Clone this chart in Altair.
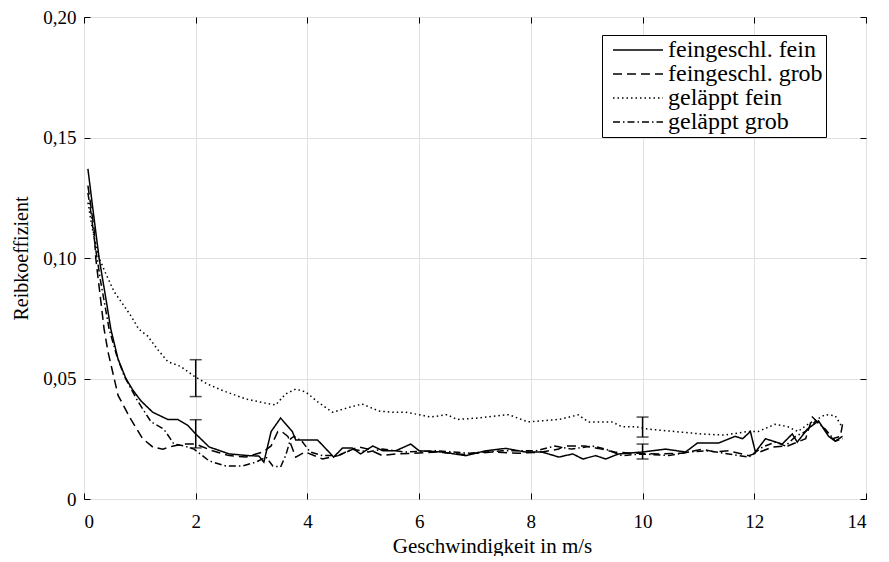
import altair as alt
import pandas as pd

FONT = "Liberation Serif"

names = ["feingeschl. fein", "feingeschl. grob", "geläppt fein", "geläppt grob"]

s_x = [0.07, 0.15, 0.27, 0.4, 0.48, 0.61, 0.75, 0.88, 1.02, 1.23, 1.5, 1.68, 1.86, 2.0, 2.24, 2.6, 2.95, 3.13, 3.22, 3.35, 3.52, 3.73, 3.79, 3.97, 4.18, 4.3, 4.47, 4.63, 4.8, 4.95, 5.17, 5.35, 5.58, 5.85, 6.0, 6.4, 6.83, 7.19, 7.55, 7.9, 8.2, 8.5, 8.75, 8.93, 9.16, 9.34, 9.57, 10.0, 10.41, 10.77, 10.98, 11.36, 11.66, 11.79, 11.93, 12.02, 12.2, 12.5, 12.68, 12.77, 12.95, 13.15, 13.33, 13.45, 13.58]
s_y = [0.137, 0.122, 0.100, 0.082, 0.0705, 0.058, 0.050, 0.045, 0.0407, 0.036, 0.033, 0.033, 0.0305, 0.027, 0.0216, 0.0187, 0.018, 0.0178, 0.0153, 0.028, 0.0336, 0.028, 0.0245, 0.0245, 0.0245, 0.0216, 0.0174, 0.0212, 0.0212, 0.0187, 0.022, 0.020, 0.020, 0.0228, 0.020, 0.0195, 0.018, 0.020, 0.021, 0.0195, 0.0195, 0.0174, 0.0187, 0.0166, 0.018, 0.0166, 0.0187, 0.0195, 0.0207, 0.0195, 0.0232, 0.0232, 0.026, 0.025, 0.028, 0.0195, 0.025, 0.0228, 0.027, 0.0236, 0.029, 0.0324, 0.026, 0.024, 0.026]

d_x = [0.07, 0.12, 0.18, 0.21, 0.36, 0.43, 0.61, 0.84, 1.05, 1.23, 1.41, 1.6, 1.79, 2.0, 2.3, 2.6, 2.9, 3.2, 3.35, 3.47, 3.54, 3.65, 3.79, 3.96, 4.27, 4.55, 4.91, 5.09, 5.34, 5.58, 5.9, 6.3, 6.8, 7.3, 7.8, 8.2, 8.5, 8.6, 8.97, 9.2, 9.5, 9.8, 10.3, 10.7, 11.07, 11.3, 11.54, 11.9, 12.1, 12.33, 12.6, 12.92, 13.04, 13.22, 13.4, 13.54, 13.58]
d_y = [0.13, 0.122, 0.112, 0.100, 0.0705, 0.061, 0.043, 0.033, 0.025, 0.0216, 0.0207, 0.022, 0.0228, 0.0228, 0.020, 0.018, 0.0174, 0.0195, 0.022, 0.028, 0.028, 0.026, 0.0174, 0.0195, 0.0166, 0.018, 0.0216, 0.0207, 0.018, 0.0187, 0.019, 0.0195, 0.0185, 0.0195, 0.019, 0.0195, 0.0207, 0.022, 0.022, 0.021, 0.0195, 0.019, 0.0187, 0.019, 0.0207, 0.0195, 0.020, 0.018, 0.0195, 0.0216, 0.022, 0.025, 0.034, 0.030, 0.025, 0.026, 0.031]

p_x = [0.07, 0.15, 0.27, 0.4, 0.54, 0.84, 0.98, 1.14, 1.32, 1.5, 1.73, 1.97, 2.21, 2.48, 2.9, 3.2, 3.43, 3.61, 3.79, 3.97, 4.2, 4.45, 4.74, 4.98, 5.28, 5.52, 5.75, 6.0, 6.2, 6.5, 6.68, 7.05, 7.6, 7.95, 8.5, 8.85, 9.03, 9.45, 9.63, 9.87, 10.1, 10.57, 11.05, 11.46, 11.88, 12.07, 12.37, 12.6, 12.78, 12.96, 13.27, 13.45, 13.57]
p_y = [0.123, 0.112, 0.100, 0.093, 0.086, 0.076, 0.0705, 0.0676, 0.062, 0.057, 0.055, 0.051, 0.0477, 0.045, 0.0415, 0.040, 0.039, 0.0436, 0.0456, 0.0444, 0.040, 0.036, 0.038, 0.0394, 0.0365, 0.036, 0.036, 0.035, 0.034, 0.035, 0.033, 0.0336, 0.035, 0.032, 0.033, 0.0349, 0.032, 0.032, 0.030, 0.030, 0.029, 0.028, 0.027, 0.0265, 0.028, 0.028, 0.031, 0.030, 0.028, 0.031, 0.035, 0.0345, 0.030]

g_x = [0.07, 0.13, 0.2, 0.3, 0.45, 0.58, 0.72, 0.96, 1.2, 1.43, 1.61, 1.79, 1.97, 2.24, 2.54, 2.84, 3.08, 3.26, 3.38, 3.52, 3.61, 3.7, 3.76, 3.9, 4.05, 4.27, 4.55, 4.8, 5.09, 5.34, 5.58, 5.75, 6.3, 6.9, 7.5, 8.1, 8.43, 8.73, 9.1, 9.34, 9.63, 10.0, 10.47, 10.83, 11.18, 11.54, 11.9, 12.15, 12.38, 12.56, 12.74, 12.92, 13.1, 13.27, 13.45, 13.58]
g_y = [0.127, 0.118, 0.105, 0.09, 0.0705, 0.06, 0.051, 0.0407, 0.032, 0.029, 0.0228, 0.022, 0.0207, 0.0158, 0.0137, 0.0137, 0.0153, 0.0174, 0.0137, 0.0133, 0.018, 0.025, 0.026, 0.024, 0.0195, 0.018, 0.018, 0.0207, 0.0195, 0.0207, 0.020, 0.0195, 0.020, 0.019, 0.020, 0.020, 0.022, 0.0207, 0.022, 0.0207, 0.018, 0.0187, 0.018, 0.0195, 0.020, 0.0187, 0.0174, 0.0216, 0.0236, 0.022, 0.026, 0.028, 0.0324, 0.029, 0.024, 0.025]

err_x = [2, 2, 10, 10]
err_lo = [0.0425, 0.0212, 0.0257, 0.0166]
err_hi = [0.0578, 0.0329, 0.034, 0.0228]

dashes = [[1, 0], [9, 5], [1.5, 3], [7, 3, 1.5, 3]]

rows = []
for name, xs, ys in zip(names, [s_x, d_x, p_x, g_x], [s_y, d_y, p_y, g_y]):
    for a, b in zip(xs, ys):
        rows.append({"x": a, "y": b, "s": name})
df = pd.DataFrame(rows)
edf = pd.DataFrame({"x": err_x, "lo": err_lo, "hi": err_hi})

xdom = [0, 14]
ydom = [0, 0.2]
ylab = "datum.value == 0 ? '0' : replace(format(datum.value, '.2f'), '.', ',')"

lines = alt.Chart(df).mark_line(color="black", strokeWidth=1.5).encode(
    x=alt.X("x:Q", scale=alt.Scale(domain=xdom, nice=False),
            axis=alt.Axis(orient="bottom", values=list(range(0, 15, 2)), offset=-6, tickSize=6,
                          domain=False, labelPadding=13, title="Geschwindigkeit in m/s",
                          titleFontSize=21, titlePadding=4, titleX=408, grid=True)),
    y=alt.Y("y:Q", scale=alt.Scale(domain=ydom, nice=False),
            axis=alt.Axis(orient="left", values=[0, 0.05, 0.1, 0.15, 0.2], offset=-6, tickSize=6,
                          domain=False, labelPadding=8, labelExpr=ylab, title="Reibkoeffizient",
                          titleFontSize=20, titlePadding=11, grid=True)),
    strokeDash=alt.StrokeDash("s:N", scale=alt.Scale(domain=names, range=dashes),
                              legend=alt.Legend(orient="none", legendX=518, legendY=18, title=None,
                                                symbolType="M-2.5,0H2.5", symbolSize=400,
                                                symbolOffset=21,
                                                symbolStrokeWidth=1.5, symbolStrokeColor="black",
                                                symbolFillColor="transparent",
                                                labelFont=FONT, labelFontSize=24, labelColor="black",
                                                labelLimit=400,
                                                strokeColor="black", fillColor="white",
                                                padding=3, rowPadding=0, labelOffset=18)),
)

errs = alt.Chart(edf).mark_errorbar(ticks=alt.MarkConfig(size=12), color="black", thickness=1.5).encode(
    x=alt.X("x:Q", scale=alt.Scale(domain=xdom, nice=False),
            axis=alt.Axis(orient="top", values=list(range(0, 15, 2)), offset=-6, tickSize=6,
                          domain=False, labels=False, title=None, grid=False)),
    y=alt.Y("lo:Q", scale=alt.Scale(domain=ydom, nice=False),
            axis=alt.Axis(orient="right", values=[0, 0.05, 0.1, 0.15, 0.2], offset=-6, tickSize=6,
                          domain=False, labels=False, title=None, grid=False)),
    y2="hi:Q",
)

chart = alt.layer(lines, errs).resolve_scale(x="independent", y="independent").properties(
    width=782, height=482, padding={"left": 3, "top": 0, "right": 5, "bottom": 0}
).configure_view(stroke="black", strokeWidth=1).configure_axis(
    labelFont=FONT, labelFontSize=19, labelColor="black", titleFont=FONT, titleFontSize=19,
    titleFontWeight="normal", titleColor="black", tickColor="black", tickWidth=1,
    gridColor="#e0e0e0", gridWidth=1
)

chart.save("out.html", embed_options={"renderer": "svg", "actions": False})
